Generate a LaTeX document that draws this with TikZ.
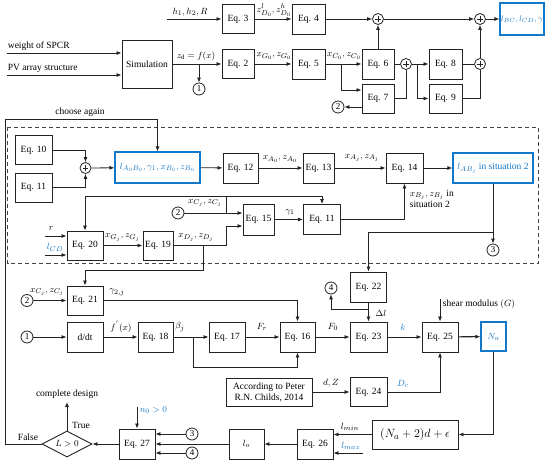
\documentclass[tikz,border=0pt]{standalone}
\usepackage{fontspec}
\setmainfont{Liberation Serif}
\usetikzlibrary{arrows.meta,shapes.geometric}
\definecolor{bl}{RGB}{20,120,200}
\definecolor{ln}{RGB}{35,35,35}
\begin{document}
\begin{tikzpicture}[x=1pt,y=-1pt,
  font=\fontsize{9.5}{11}\selectfont,
  line width=0.8pt, draw=ln,
  >={Latex[length=5pt,width=4pt]},
  sz/.style 2 args={minimum width=#1pt,minimum height=#2pt},
  box/.style={draw=ln,line width=0.9pt,inner sep=1pt,align=center},
  bbox/.style={draw=bl,line width=1.1pt,text=bl,inner sep=1pt},
  plus/.style={circle,draw=ln,line width=0.8pt,minimum size=11pt,inner sep=0pt,
    path picture={\draw[line width=0.6pt] ([xshift=-2.8pt]path picture bounding box.center) -- ([xshift=2.8pt]path picture bounding box.center) ([yshift=-2.8pt]path picture bounding box.center) -- ([yshift=2.8pt]path picture bounding box.center);}},
  num/.style={circle,draw=ln,line width=0.8pt,minimum size=12pt,inner sep=0pt,font=\fontsize{9}{9}\selectfont},
  lab/.style={inner sep=0.5pt},
  blab/.style={inner sep=0.5pt,text=bl}]
\useasboundingbox (0,0) rectangle (550,463);

% ---------- top row ----------
\node[box,sz={32}{29}] (eq3) at (238,19) {Eq. 3};
\node[box,sz={33}{30}] (eq4) at (308.5,19) {Eq. 4};
\node[plus] (p1) at (378,19) {};
\node[plus] (p2) at (480,19) {};
\node[bbox,sz={44}{32},font=\fontsize{8.5}{10}\selectfont] (bc) at (522,19) {$l_{BC}, l_{CD}, \gamma$};
\coordinate (hin) at (167,19);
\draw[->] (hin) -- (eq3.west);
\node[lab] (hl) at (190,12) {$h_1, h_2, R$};
\draw[->] (eq3) -- (eq4);
\node[lab] (zl) at (274,10) {$z^{l}_{D_0}, z^{h}_{D_0}$};
\draw[->] (eq4) -- (p1);
\draw[->] (p1) -- (p2);
\draw[->] (p2) -- (bc);

% ---------- second row ----------
\node[box,sz={50}{48}] (sim) at (147,64) {Simulation};
\coordinate (w1) at (7,53);
\coordinate (w2) at (7,75);
\draw[->] (w1) -- (w1 -| sim.west);
\draw[->] (w2) -- (w2 -| sim.west);
\node[lab,anchor=south west] (wl) at (7,51.5) {weight of SPCR};
\node[lab,anchor=south west] (pl) at (7,73.5) {PV array structure};
\node[box,sz={32}{29}] (eq2) at (238,64) {Eq. 2};
\draw[->] (sim) -- (eq2);
\node[lab] (zd) at (196,56) {$z_{\mathrm{d}} = f(x)$};
\coordinate (b0) at (199,64);
\node[num] (c1a) at (199,89) {1};
\draw[->] (b0) -- (c1a);
\node[box,sz={33}{30}] (eq5) at (308.5,64) {Eq. 5};
\draw[->] (eq2) -- (eq5);
\node[lab] (xg0) at (274,56) {$x_{G_0}, z_{G_0}$};
\node[box,sz={32}{30}] (eq6) at (378,64) {Eq. 6};
\draw[->] (eq5) -- (eq6);
\node[lab] (xc0) at (344,56) {$x_{C_0}, z_{C_0}$};
\draw[->] (eq6) -- (p1);
\node[box,sz={32}{29}] (eq7) at (378,98.5) {Eq. 7};
\coordinate (b1) at (341,64);
\draw[->] (b1) |- ([yshift=8.5pt]eq7.west);
\node[num] (c2a) at (338,107) {2};
\draw[->] ([yshift=-8.5pt]eq7.west) -- (c2a);
\node[plus] (p3) at (406,64) {};
\draw (eq6) -- (p3);
\draw (eq7.east) -| (p3.south);
\node[box,sz={33}{30}] (eq8) at (445.5,64) {Eq. 8};
\node[box,sz={33}{29}] (eq9) at (445.5,98.5) {Eq. 9};
\coordinate (b2) at (417,64);
\draw[->] (p3) -- (eq8);
\draw[->] (b2) |- (eq9.west);
\node[plus] (p4) at (480,64) {};
\draw (eq8) -- (p4);
\draw (eq9.east) -| (p4.south);
\draw[->] (p4) -- (p2);

% ---------- dashed region ----------
\draw[ln!85,line width=0.8pt,dash pattern=on 4pt off 3pt] (7.5,127) rectangle (538,263);
\node[box,sz={37}{29}] (eq10) at (33.5,150) {Eq. 10};
\node[box,sz={37}{29}] (eq11a) at (33.5,187.5) {Eq. 11};
\node[plus] (p5) at (85.5,168) {};
\draw[->] (eq10.east) -| (p5.north);
\draw[->] (eq11a.east) -| (p5.south);
\node[bbox,sz={85}{31}] (ba0) at (157.5,167.5) {$l_{A_0B_0}, \gamma_1, x_{B_0}, z_{B_0}$};
\draw[->] (p5) -- (ba0);
\node[box,sz={35}{30}] (eq12) at (240.5,168) {Eq. 12};
\draw[->] (ba0) -- (eq12);
\node[box,sz={31}{30}] (eq13) at (318.5,168) {Eq. 13};
\draw[->] (eq12) -- (eq13);
\node[lab] (xa0) at (280,159) {$x_{A_0}, z_{A_0}$};
\node[box,sz={37}{30}] (eq14) at (404.5,168) {Eq. 14};
\draw[->] (eq13) -- (eq14);
\node[lab] (xaj) at (362,158) {$x_{A_j}, z_{A_j}$};
\node[bbox,sz={80}{30}] (labj) at (493,168) {$l_{AB_j}$ in situation 2};
\draw[->] (eq14) -- (labj);
\node[num] (c3a) at (493,250) {3};
\draw[->] (labj.south) -- (c3a.north);
\coordinate (b3) at (493,232);

\node[box,sz={31}{31}] (eq15) at (258.5,219.5) {Eq. 15};
\node[box,sz={37}{30}] (eq11b) at (322,219.5) {Eq. 11};
\draw[->] (eq15) -- (eq11b);
\node[lab] (g1) at (290,212) {$\gamma_1$};
\draw[->] (eq11b.east) -| (eq14.south);
\node[lab,anchor=north west,align=left] (xbj) at (409,189) {$x_{B_j}, z_{B_j}$ in\\situation 2};
\node[num] (c2b) at (178,213) {2};
\draw[->] (c2b) -- ([yshift=6.5pt]eq15.west);
\node[lab] (xcj) at (205,203) {$x_{C_j}, z_{C_j}$};
\coordinate (j1) at (226,213);
\coordinate (j2) at (226,196);
\node[box,sz={36}{29}] (eq20) at (85,245.5) {Eq. 20};
\draw (j1) -- (j2);
\draw[->] (j2) -| (eq11b.north);
\draw[->] (j2) -| (eq20.north);
\coordinate (rin) at (45,236);
\coordinate (lin) at (45,255);
\draw[->] (rin) -- (rin -| eq20.west);
\draw[->] (lin) -- (lin -| eq20.west);
\node[lab] (rl) at (51,229) {$r$};
\node[blab] (lcd) at (55,247.5) {$l_{CD}$};
\node[box,sz={30}{29}] (eq19) at (158,245.5) {Eq. 19};
\draw[->] (eq20) -- (eq19);
\node[lab] (xgj) at (122.5,237.5) {$x_{G_j}, z_{G_j}$};
\node[lab] (xdj) at (196,237.5) {$x_{D_j}, z_{D_j}$};
\coordinate (j3) at (226,245.5);
\draw[->] (eq19.east) -- (j3) |- ([yshift=-6.5pt]eq15.west);
\coordinate (j4) at (203,245.5);
\coordinate (j5) at (203,270);

% ---------- lower part ----------
\node[box,sz={36}{29}] (eq21) at (85,300.5) {Eq. 21};
\draw[->] (j4) -- (j5) -| (eq21.north);
\node[num] (c2c) at (27,300.5) {2};
\draw[->] (c2c) -- (eq21);
\node[lab] (xcj2) at (47,292) {$x_{C_j}, z_{C_j}$};
\node[lab] (g2) at (117,292) {$\gamma_{2,j}$};

\node[box,sz={36}{30}] (dd) at (85,337) {d/dt};
\node[num] (c1b) at (27,337) {1};
\draw[->] (c1b) -- (dd);
\node[box,sz={35}{30}] (eq18) at (155.5,337) {Eq. 18};
\draw[->] (dd) -- (eq18);
\node[lab] (fp) at (121,327) {$f^{'}(x)$};
\node[box,sz={36}{30}] (eq17) at (227,337) {Eq. 17};
\draw[->] (eq18) -- (eq17);
\node[lab] (bj) at (180,327) {$\beta_j$};
\node[box,sz={35}{30}] (eq16) at (297.5,337) {Eq. 16};
\draw[->] (eq17) -- (eq16);
\node[lab] (fr) at (262,327) {$F_r$};
\coordinate (j6) at (193,337);
\coordinate (j7) at (193,367);
\draw[->] (j6) -- (j7) -| (eq16.south);
\draw[->] (eq21.east) -| (eq16.north);
\node[box,sz={37}{30}] (eq23) at (368.5,337) {Eq. 23};
\draw[->] (eq16) -- (eq23);
\node[lab] (f0) at (333,327) {$F_0$};
\node[box,sz={36}{30}] (eq22) at (368.5,287) {Eq. 22};
\draw[->] (b3) -| (eq22.north);
\draw[->] (eq22) -- (eq23);
\node[lab] (dl) at (381,313) {$\Delta l$};
\node[num] (c4a) at (331,288) {4};
\coordinate (j8) at (368.5,309);
\draw[->] (j8) -| (c4a.south);
\node[box,sz={36}{30}] (eq25) at (440,337) {Eq. 25};
\draw[->] (eq23) -- (eq25);
\node[blab] (kl) at (403,327) {$k$};
\coordinate (gin) at (440,299);
\draw[->] (gin) -- (eq25.north);
\node[lab,anchor=west] (gl) at (442,304) {shear modulus $(G)$};
\node[bbox,sz={25}{29}] (na) at (493.5,336.5) {$N_a$};
\draw[->,line width=1.1pt] (eq25) -- (na);

\node[box,sz={86}{28}] (ch) at (269,392) {According to Peter\\R.N. Childs, 2014};
\node[box,sz={37}{29}] (eq24) at (368.5,392) {Eq. 24};
\draw[->] (ch) -- (eq24);
\node[lab] (dz) at (331,383) {$d, Z$};
\draw[->] (eq24.east) -| (eq25.south);
\node[blab] (dc) at (403,384) {$D_c$};

\node[box,sz={86}{29},font=\fontsize{13}{15}\selectfont] (fm) at (415,434.5) {$(N_a+2)d+\epsilon$};
\draw[->] (na.south) |- (fm.east);
\node[box,sz={36}{30}] (eq26) at (315,444) {Eq. 26};
\draw[->] (fm.west) -- (fm.west -| eq26.east);
\node[lab] (lmin) at (350,427) {$l_{min}$};
\coordinate (lmx) at (363,453);
\draw[->] (lmx) -- (lmx -| eq26.east);
\node[blab] (lmax) at (351,446) {$l_{max}$};
\node[box,sz={35}{30}] (lo) at (246.5,444) {$l_o$};
\draw[->] (eq26) -- (lo);
\node[box,sz={36}{30}] (eq27) at (137,444) {Eq. 27};
\draw[->] (lo) -- (eq27);
\node[num] (c3b) at (192,434) {3};
\node[num] (c4b) at (192,453) {4};
\draw[->] (c3b) -- ([yshift=10pt]eq27.east);
\draw[->] (c4b) -- ([yshift=-9pt]eq27.east);
\coordinate (nin) at (137,407);
\draw[->] (nin) -- (eq27.north);
\node[blab,anchor=west] (n0) at (139,410) {$n_0 > 0$};
\node[diamond,draw=ln,line width=0.9pt,aspect=2,inner sep=0pt,minimum width=50pt,minimum height=26pt] (dia) at (67,444) {$L > 0$};
\draw[->] (eq27) -- (dia);
\coordinate (cd) at (67,402);
\draw[->] (dia.north) -- (cd);
\node[lab,anchor=south] (cdl) at (67,399) {complete design};
\node[lab] (tr) at (81,425) {True};
\node[lab] (fa) at (28,437) {False};
\coordinate (l1) at (5,444);
\coordinate (l2) at (5,119);
\coordinate (l3) at (157.5,119);
\draw[->] (dia.west) -- (l1) -- (l2) -- (l3) -- (ba0.north);
\node[lab] (ca) at (80,112) {choose again};
\end{tikzpicture}
\end{document}
